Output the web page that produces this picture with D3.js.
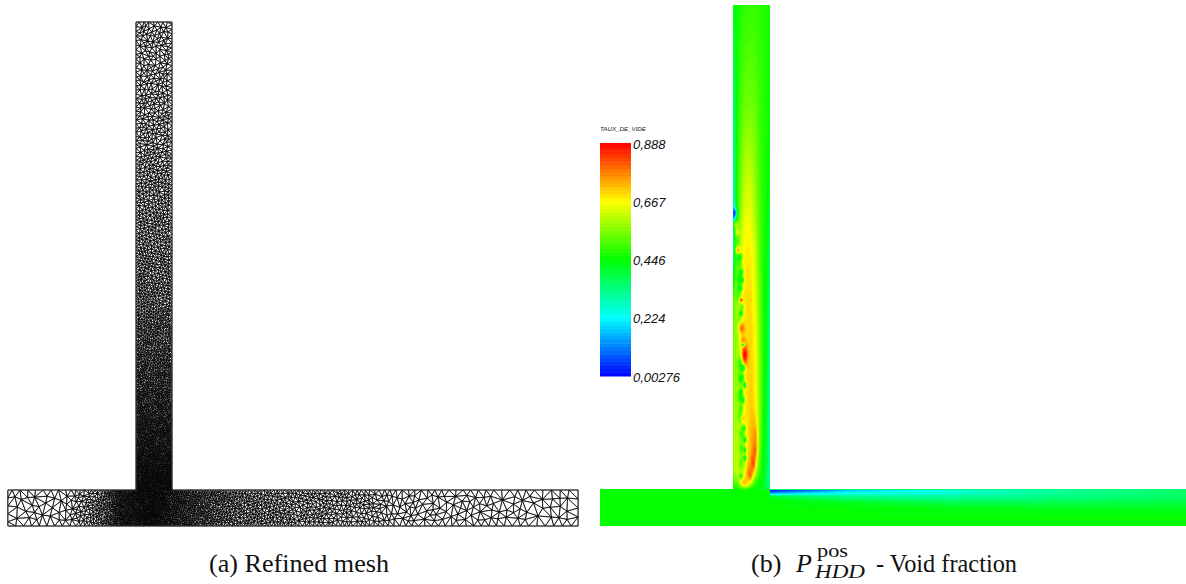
<!DOCTYPE html>
<html><head><meta charset="utf-8">
<script src="https://cdn.jsdelivr.net/npm/d3@7"></script>
<style>html,body{margin:0;padding:0;background:#fff;overflow:hidden}svg{display:block}</style>
</head><body><svg id="c" width="1186" height="584"></svg>
<script>
// ---- Colour legend
const legendTitle = "TAUX_DE_VIDE";
const legendTicks = [0.888, 0.667, 0.446, 0.224, 0.00276];
const legendLabels = ["0,888", "0,667", "0,446", "0,224", "0,00276"];
const legendColors = ["#ff0000", "#ffff00", "#00ff00", "#00ffff", "#0000ff"];

// ---- Captions
const captionA = "(a) Refined mesh";
const captionB = ["(b)", "P", "pos", "HDD", "- Void fraction"];

// ---- Geometry, in channel widths, origin at the junction on the main pipe's upper wall
const mainU = [-4.06, 11.78];   // left panel main pipe
const branchV = [0, 13];
const mainV = [-1, 0];

// ---- Mesh size (channel widths)
const sizeMainU = [-4.06, -2.5, -2.2, -1.9, -1, 0, 1, 2, 4, 6, 6.8, 9, 11.78];
const sizeMainH = [0.22, 0.21, 0.13, 0.11, 0.045, 0.035, 0.055, 0.075, 0.1, 0.12, 0.17, 0.21, 0.25];
const sizeBranchV = [0, 2, 4, 6, 8, 10, 13];
const sizeBranchH = [0.035, 0.05, 0.065, 0.085, 0.1, 0.115, 0.13];

// ---- Void fraction: branch, rows by height, columns across
const branchCols = [-0.5, -0.4, -0.3, -0.2, -0.1, 0, 0.1, 0.2, 0.3, 0.4, 0.5];
const branchRows = [13.1, 10.5, 7.8, 6.5, 5.1, 3.8, 2.4, 1.34, 0.53, 0.2, 0];
const branchVoid = [
 [.43,.45,.47,.48,.49,.49,.49,.48,.48,.47,.46],
 [.33,.45,.50,.53,.54,.54,.53,.50,.48,.47,.45],
 [.24,.46,.55,.62,.64,.63,.58,.52,.48,.46,.41],
 [.28,.52,.61,.67,.68,.67,.62,.54,.48,.45,.37],
 [.52,.57,.63,.68,.70,.69,.65,.56,.48,.44,.34],
 [.55,.58,.63,.68,.70,.70,.67,.58,.48,.43,.32],
 [.56,.59,.63,.68,.70,.71,.68,.59,.48,.42,.31],
 [.58,.60,.64,.66,.69,.72,.70,.58,.47,.41,.30],
 [.58,.62,.64,.67,.72,.70,.62,.52,.45,.39,.30],
 [.50,.54,.63,.70,.66,.57,.49,.46,.43,.38,.32],
 [.44,.44,.45,.46,.46,.45,.44,.43,.42,.40,.35]
];
// Local spots in the branch: height, across, half-height, half-width, void fraction
const spotV = [6.7,6.2,5.7,5.3,4.6,3.4,3.0,2.5,2.0,1.5,1.1,.7,
  7.47,7.15,6.96,6.47,6.28,6.07,5.88,5.66,5.45,5.12,4.93,4.77,4.36,4.04,3.91,3.64,3.28,3.01,2.82,2.64,2.42,2.2,1.93,1.66,1.34,1.07,.85,.58,.36,.15,1.88,1.47,1.07,.72,.42,.2];
const spotU = [-.4,-.36,-.33,-.36,-.33,-.3,-.3,-.3,-.3,-.26,-.27,-.27,
  -.47,-.42,-.39,-.36,-.31,-.31,-.28,-.26,-.31,-.28,-.26,-.28,-.26,-.23,-.23,-.18,-.23,-.26,-.18,-.28,-.23,-.28,-.23,-.2,-.18,-.18,-.18,-.2,-.28,-.39,.04,.09,.09,.04,-.04,-.18];
const spotRV = [.15,.2,.2,.2,.15,.2,.2,.2,.2,.2,.2,.2,
  .16,.1,.1,.1,.08,.08,.08,.08,.08,.06,.08,.08,.16,.12,.05,.24,.08,.1,.08,.08,.08,.08,.1,.08,.08,.08,.08,.1,.08,.08,.28,.28,.28,.25,.2,.12];
const spotRU = [.06,.07,.08,.07,.07,.08,.08,.08,.08,.08,.08,.08,
  .07,.06,.06,.07,.05,.05,.05,.05,.05,.04,.05,.05,.08,.07,.04,.08,.05,.05,.04,.04,.04,.04,.05,.04,.04,.04,.04,.05,.05,.05,.07,.07,.07,.07,.08,.1];
const spotVoid = [.5,.47,.45,.5,.55,.46,.48,.46,.5,.48,.5,.52,
  .05,.62,.67,.74,.38,.5,.36,.38,.34,.85,.5,.38,.8,.76,.34,.9,.32,.42,.34,.38,.34,.46,.72,.42,.38,.42,.34,.6,.44,.5,.72,.76,.8,.83,.8,.72];

// Void fraction in the main pipe: rows by depth below the wall, columns along it
const mainCols = [-4, 0.49, 0.5, 1.3, 2.6, 5.3, 8, 11.8];
const mainRows = [0, -0.08, -0.2, -0.35, -0.5, -0.7, -1];
const mainVoid = [
 [.446,.446,.00,.03,.16,.24,.30,.36],
 [.446,.446,.10,.16,.22,.26,.31,.36],
 [.446,.446,.42,.38,.33,.31,.33,.36],
 [.446,.446,.446,.44,.42,.38,.38,.39],
 [.446,.446,.446,.446,.446,.43,.42,.42],
 [.446,.446,.446,.446,.446,.446,.446,.446],
 [.446,.446,.446,.446,.446,.446,.446,.446]
];

// ---- Scales
const svg = d3.select("#c");
const xMesh = d3.scaleLinear().domain([0, 1]).range([154, 190]);
const yMesh = d3.scaleLinear().domain([0, 1]).range([490, 454]);
const xField = d3.scaleLinear().domain([0, 1]).range([751.5, 788.5]);
const yField = d3.scaleLinear().domain([0, 1]).range([489.5, 452.5]);
const voidColor = d3.scaleLinear().domain(legendTicks).range(legendColors).clamp(true);
const yLegend = d3.scaleLinear().domain([legendTicks[4], legendTicks[0]]).range([376, 143]);

// ---- Mesh (a)
function lerp(xs, ys, x) { return d3.scaleLinear().domain(xs).range(ys).clamp(true)(x); }
function meshSize(u, v) {
  const a = lerp(sizeMainU, sizeMainH, u);
  if (v <= 0) return a;
  return lerp(sizeBranchV, sizeBranchH, v);
}
function inside(u, v) {
  return (v >= mainV[0] && v <= mainV[1] && u >= mainU[0] && u <= mainU[1]) ||
         (v > 0 && v <= branchV[1] && u >= -0.5 && u <= 0.5);
}
function radical(i, b) { let f = 1, r = 0; while (i > 0) { f /= b; r += f * (i % b); i = Math.floor(i / b); } return r; }

const nodes = [];
const hash = new Map();
const cell = 0.3;
const key = (u, v) => Math.floor(u / cell) + "_" + Math.floor(v / cell);
function tryAdd(u, v, force) {
  const r = meshSize(u, v) * 0.86;
  const cu = Math.floor(u / cell), cv = Math.floor(v / cell);
  if (!force) for (let i = -1; i <= 1; i++) for (let j = -1; j <= 1; j++) {
    const l = hash.get((cu + i) + "_" + (cv + j));
    if (l) for (const p of l) if ((p[0]-u)*(p[0]-u) + (p[1]-v)*(p[1]-v) < r*r) return;
  }
  const k = key(u, v);
  if (!hash.has(k)) hash.set(k, []);
  hash.get(k).push([u, v]);
  nodes.push([u, v]);
}
function walk(u0, v0, u1, v1) {
  const L = Math.hypot(u1-u0, v1-v0); let t = 0;
  while (t < L) { tryAdd(u0+(u1-u0)*t/L, v0+(v1-v0)*t/L, true); t += meshSize(u0+(u1-u0)*t/L, v0+(v1-v0)*t/L); }
}
walk(mainU[0], -1, mainU[1], -1); walk(mainU[1], -1, mainU[1], 0); walk(mainU[1], 0, .5, 0);
walk(.5, 0, .5, 13); walk(.5, 13, -.5, 13); walk(-.5, 13, -.5, 0); walk(-.5, 0, mainU[0], 0); walk(mainU[0], 0, mainU[0], -1);
for (let i = 1; i < 160000; i++) {
  tryAdd(mainU[0] + (mainU[1]-mainU[0]) * radical(i, 2), -radical(i, 3), false);
  tryAdd(-.5 + radical(i, 5), 13 * radical(i, 7), false);
}
const del = d3.Delaunay.from(nodes);
const meshPath = d3.path();
const T = del.triangles;
for (let i = 0; i < T.length; i += 3) {
  const a = nodes[T[i]], b = nodes[T[i+1]], c = nodes[T[i+2]];
  if (!inside((a[0]+b[0]+c[0])/3, (a[1]+b[1]+c[1])/3)) continue;
  meshPath.moveTo(xMesh(a[0]), yMesh(a[1]));
  meshPath.lineTo(xMesh(b[0]), yMesh(b[1]));
  meshPath.lineTo(xMesh(c[0]), yMesh(c[1]));
  meshPath.closePath();
}
const outline = d3.line().x(d => xMesh(d[0])).y(d => yMesh(d[1]))([
  [mainU[0],-1],[mainU[1],-1],[mainU[1],0],[.5,0],[.5,13],[-.5,13],[-.5,0],[mainU[0],0],[mainU[0],-1]]);
const defs = svg.append("defs");
defs.append("filter").attr("id", "meshSoft").attr("x", "-2%").attr("y", "-2%").attr("width", "104%").attr("height", "104%")
  .attr("color-interpolation-filters", "sRGB")
  .append("feGaussianBlur").attr("stdDeviation", 0.3);
const gA = svg.append("g").attr("filter", "url(#meshSoft)");
gA.append("path").attr("d", meshPath.toString()).attr("fill", "none").attr("stroke", "#000").attr("stroke-width", 0.65);
gA.append("path").attr("d", outline).attr("fill", "none").attr("stroke", "#333").attr("stroke-width", 1).attr("stroke-linejoin", "miter");

// ---- Void field (b)
function bilinear(cols, rows, tbl, c, r) {
  const ci = Math.max(0, Math.min(cols.length - 2, d3.bisectRight(cols, c) - 1));
  let ri = 0; while (ri < rows.length - 2 && rows[ri+1] >= r) ri++;
  const tc = Math.max(0, Math.min(1, (c - cols[ci]) / (cols[ci+1] - cols[ci])));
  const tr = Math.max(0, Math.min(1, (rows[ri] - r) / (rows[ri] - rows[ri+1])));
  const top = tbl[ri][ci] * (1-tc) + tbl[ri][ci+1] * tc;
  const bot = tbl[ri+1][ci] * (1-tc) + tbl[ri+1][ci+1] * tc;
  return top * (1-tr) + bot * tr;
}
function fieldAt(u, v) {
  if (v < 0) return bilinear(mainCols, mainRows, mainVoid, u, v);
  let f = bilinear(branchCols, branchRows, branchVoid, u, v);
  spotV.forEach((sv, i) => {
    const d = ((v-sv)/spotRV[i])**2 + ((u-spotU[i])/spotRU[i])**2;
    if (d < 9) f += (spotVoid[i] - f) * Math.exp(-d);
  });
  return f;
}
const bins = d3.range(96).map(() => []);
const binOf = d3.scaleQuantize().domain([legendTicks[4], legendTicks[0]]).range(d3.range(96));
function addPx(x, y) {
  const b = binOf(fieldAt(xField.invert(x + .5), yField.invert(y + .5)));
  bins[b].push("M" + x + " " + y + "h1v1h-1z");
}
for (let x = 733; x < 770; x++) for (let y = 5; y < 489; y++) addPx(x, y);
for (let x = 600; x < 1186; x++) for (let y = 489; y < 526; y++) addPx(x, y);
defs.append("filter").attr("id", "soft").attr("x", "-5%").attr("y", "-5%").attr("width", "110%").attr("height", "110%")
  .attr("color-interpolation-filters", "sRGB")
  .append("feGaussianBlur").attr("stdDeviation", 0.6);
const gB = svg.append("g").attr("filter", "url(#soft)").attr("shape-rendering", "crispEdges");
const binCenter = i => binOf.invertExtent(i).reduce((a, b) => a + b) / 2;
gB.selectAll("path").data(bins).join("path")
  .attr("d", d => d.join(""))
  .attr("fill", (d, i) => voidColor(binCenter(i)));

// ---- Colour legend
const gL = svg.append("g").attr("font-family", "'Liberation Sans', sans-serif").attr("font-style", "italic");
const bands = d3.range(64);
const bandV = d3.scaleLinear().domain([0, 64]).range(yLegend.domain());
gL.selectAll("rect").data(bands).join("rect")
  .attr("x", 600).attr("width", 31)
  .attr("y", d => yLegend(bandV(d + 1)))
  .attr("height", d => yLegend(bandV(d)) - yLegend(bandV(d + 1)) + .5)
  .attr("fill", d => voidColor(bandV(d + .5)));
const axis = d3.axisRight(yLegend).tickValues(legendTicks).tickSize(0).tickPadding(2)
  .tickFormat((d, i) => legendLabels[i]);
const gAxis = gL.append("g").attr("transform", "translate(631,1)").call(axis);
gAxis.select(".domain").remove();
gAxis.selectAll("text").attr("font-size", 13).attr("font-family", "'Liberation Sans', sans-serif").attr("font-style", "italic").attr("fill", "#111");
gL.append("text").attr("x", 600).attr("y", 131).attr("font-size", 6.2).attr("fill", "#222").text(legendTitle);

// ---- Captions
const cap = svg.append("g").attr("font-family", "'Liberation Serif', serif").attr("fill", "#111");
cap.append("text").attr("x", 209).attr("y", 572).attr("font-size", 26).attr("textLength", 180).attr("lengthAdjust", "spacingAndGlyphs").text(captionA);
cap.append("text").attr("x", 751).attr("y", 572).attr("font-size", 26).text(captionB[0]);
cap.append("text").attr("x", 796).attr("y", 572).attr("font-size", 26).attr("font-style", "italic").text(captionB[1]);
cap.append("text").attr("x", 817).attr("y", 557).attr("font-size", 19).attr("textLength", 31).attr("lengthAdjust", "spacingAndGlyphs").text(captionB[2]);
cap.append("text").attr("x", 815).attr("y", 578).attr("font-size", 19).attr("font-style", "italic").attr("textLength", 50).attr("lengthAdjust", "spacingAndGlyphs").text(captionB[3]);
cap.append("text").attr("x", 876).attr("y", 572).attr("font-size", 26).attr("textLength", 141).attr("lengthAdjust", "spacingAndGlyphs").text(captionB[4]);
</script></body></html>
